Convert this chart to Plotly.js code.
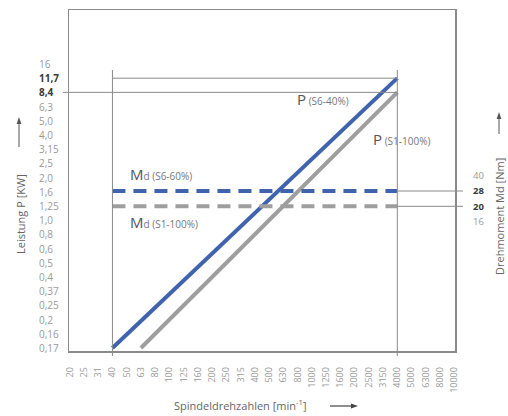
<!DOCTYPE html>
<html>
<head>
<meta charset="utf-8">
<script src="https://cdn.plot.ly/plotly-3.0.1.min.js"></script>
<style>
  html, body { margin: 0; padding: 0; background: #fff; }
  #chart { width: 508px; height: 416px; }
</style>
</head>
<body>
<div id="chart"></div>
<script>
// Speed steps on the horizontal axis (min^-1), equally spaced
const speeds = ['20', '25', '31', '40', '50', '63', '80', '100', '125', '160', '200', '250', '315',
  '400', '500', '630', '800', '1000', '1250', '1600', '2000', '2500', '3150', '4000', '5000',
  '6300', '8000', '10000'];
// Power steps on the left axis (kW), bottom to top
const powerSteps = ['0,17', '0,16', '0,2', '0,25', '0,37', '0,4', '0,5', '0,6', '0,8', '1,0', '1,25',
  '1,6', '2,0', '2,5', '3,15', '4,0', '5,0', '6,3', '8,4', '11,7', '16'];
// Torque steps on the right axis (Nm), bottom to top
const torqueSteps = ['16', '20', '28', '40'];

// Power curves (speed / power pairs)
const pS6Speed = ['40', '4000'];
const pS6Power = ['0,17', '11,7'];
const pS1Speed = ['63', '4000'];
const pS1Power = ['0,17', '8,4'];

// Constant torque lines
const mdSpeed = ['40', '4000'];
const mdS6Torque = ['28', '28'];
const mdS1Torque = ['20', '20'];

// Values printed in bold on the axes
const boldPower = ['11,7', '8,4'];
const boldTorque = ['28', '20'];

const FONT = "'Open Sans', 'Noto Sans', 'DejaVu Sans', sans-serif";
const BLUE = '#4063ad';
const GREY = '#9e9e9e';
const THIN = '#8a8a8a';

const W = 508, H = 416;
const M = { l: 69, r: 53, t: 10, b: 65 };
const PW = W - M.l - M.r, PH = H - M.t - M.b;

const xr = [-0.05, 27.05];
const yr = [-0.211, 23.8];
const y2r = [-8.458, 13.83];

const xi = s => speeds.indexOf(s);
const pi = s => powerSteps.indexOf(s);
const ti = s => torqueSteps.indexOf(s);
const xPaper = idx => (idx - xr[0]) / (xr[1] - xr[0]);
// page pixel -> paper fraction, for decorations outside the plot area
const px = x => (x - M.l) / PW;
const py = y => (H - M.b - y) / PH;

const traces = [
  {
    x: mdSpeed.map(xi), y: mdS1Torque.map(ti), yaxis: 'y2', mode: 'lines',
    line: { color: GREY, width: 4, dash: '13px,8px' }, hoverinfo: 'skip'
  },
  {
    x: mdSpeed.map(xi), y: mdS6Torque.map(ti), yaxis: 'y2', mode: 'lines',
    line: { color: BLUE, width: 4, dash: '13px,8px' }, hoverinfo: 'skip'
  },
  {
    x: pS1Speed.map(xi), y: pS1Power.map(pi), mode: 'lines',
    line: { color: GREY, width: 4 }, hoverinfo: 'skip'
  },
  {
    x: pS6Speed.map(xi), y: pS6Power.map(pi), mode: 'lines',
    line: { color: BLUE, width: 4 }, hoverinfo: 'skip'
  }
];

// left-aligned power labels
const annotations = powerSteps.map((p, i) => {
  const bold = boldPower.includes(p);
  return {
    xref: 'paper', yref: 'y', x: px(37), y: i, xanchor: 'left', yanchor: 'middle',
    text: bold ? '<b>' + p + '</b>' : p, showarrow: false,
    font: { family: FONT, size: 10, color: bold ? '#3a3a3a' : '#9a9a9a' }
  };
});

// axis titles
annotations.push(
  {
    xref: 'paper', yref: 'paper', x: px(20), y: py(214), xanchor: 'center', yanchor: 'middle',
    textangle: -90, showarrow: false,
    text: 'Leistung P [KW]', font: { family: FONT, size: 11, color: '#666' }
  },
  {
    xref: 'paper', yref: 'paper', x: px(499), y: py(217), xanchor: 'center', yanchor: 'middle',
    textangle: -90, showarrow: false,
    text: 'Drehmoment Md [Nm]', font: { family: FONT, size: 11, color: '#666' }
  },
  {
    xref: 'paper', yref: 'paper', x: px(240), y: py(405), xanchor: 'center', yanchor: 'middle',
    showarrow: false,
    text: 'Spindeldrehzahlen [min<sup>-1</sup>]', font: { family: FONT, size: 11, color: '#666' }
  }
);

// curve labels
const curveLabel = (main, rest, x, y) => ({
  xref: 'x', yref: 'y', x: x, y: y, xanchor: 'left', yanchor: 'middle', showarrow: false,
  text: main + "<span style='font-size:10px;color:#777'>" + rest + '</span>',
  font: { family: FONT, size: 15, color: '#555' }
});
annotations.push(
  curveLabel('P', ' (S6-40%)', 15.8, 17.5),
  curveLabel('P', ' (S1-100%)', 21.15, 14.72),
  curveLabel('M', 'd (S6-60%)', 4.1, 12.25),
  curveLabel('M', 'd (S1-100%)', 4.1, 8.87)
);

const thin = { color: THIN, width: 1 };
const arrowLine = { color: '#555', width: 1 };
const tri = pts => 'M' + pts.map(p => px(p[0]) + ',' + py(p[1])).join(' L') + ' Z';

const shapes = [
  // vertical guides at 40 and 4000 min^-1
  { type: 'line', xref: 'x', yref: 'paper', x0: xi('40'), x1: xi('40'), y0: py(356), y1: py(70), line: thin },
  { type: 'line', xref: 'x', yref: 'paper', x0: xi('4000'), x1: xi('4000'), y0: py(356), y1: py(70), line: thin },
  // power level guides
  { type: 'line', xref: 'paper', yref: 'y', x0: px(63), x1: xPaper(xi('4000')), y0: pi('8,4'), y1: pi('8,4'), line: thin },
  { type: 'line', xref: 'x', yref: 'y', x0: xi('40'), x1: xi('4000'), y0: pi('11,7'), y1: pi('11,7'), line: thin },
  // torque leaders to the right scale
  { type: 'line', xref: 'paper', yref: 'y2', x0: xPaper(xi('4000')), x1: px(463), y0: ti('28'), y1: ti('28'), line: thin },
  { type: 'line', xref: 'paper', yref: 'y2', x0: xPaper(xi('4000')), x1: px(463), y0: ti('20'), y1: ti('20'), line: thin },
  // axis direction arrows
  { type: 'line', xref: 'paper', yref: 'paper', x0: px(19), x1: px(19), y0: py(147), y1: py(123), line: arrowLine },
  { type: 'path', xref: 'paper', yref: 'paper', path: tri([[19, 117], [16.6, 124], [21.4, 124]]), fillcolor: '#555', line: { width: 0 } },
  { type: 'line', xref: 'paper', yref: 'paper', x0: px(499), x1: px(499), y0: py(134), y1: py(118), line: arrowLine },
  { type: 'path', xref: 'paper', yref: 'paper', path: tri([[499, 112], [496.6, 119], [501.4, 119]]), fillcolor: '#555', line: { width: 0 } },
  { type: 'line', xref: 'paper', yref: 'paper', x0: px(330), x1: px(352), y0: py(406), y1: py(406), line: { color: '#444', width: 1.2 } },
  { type: 'path', xref: 'paper', yref: 'paper', path: tri([[358, 406], [351, 403.6], [351, 408.4]]), fillcolor: '#444', line: { width: 0 } }
];

const layout = {
  width: W, height: H,
  margin: M,
  paper_bgcolor: '#fff', plot_bgcolor: '#fff',
  showlegend: false,
  font: { family: FONT },
  xaxis: {
    range: xr, tickmode: 'array', tickvals: speeds.map(xi), ticktext: speeds,
    tickangle: -90, ticks: '', ticklabelstandoff: 11,
    tickfont: { family: FONT, size: 9, color: '#9a9a9a' },
    showline: true, mirror: true, linecolor: THIN, linewidth: 1.5,
    showgrid: false, zeroline: false
  },
  yaxis: {
    range: yr, showticklabels: false, ticks: '',
    showline: true, mirror: true, linecolor: THIN, linewidth: 1.5,
    showgrid: false, zeroline: false
  },
  yaxis2: {
    overlaying: 'y', side: 'right', range: y2r,
    tickmode: 'array', tickvals: torqueSteps.map(ti),
    ticktext: torqueSteps.map(t => boldTorque.includes(t)
      ? "<b><span style='color:#3a3a3a'>" + t + '</span></b>' : t),
    ticks: '', ticklabelstandoff: 17,
    tickfont: { family: FONT, size: 9.5, color: '#9a9a9a' },
    showline: false, showgrid: false, zeroline: false
  },
  annotations: annotations,
  shapes: shapes
};

Plotly.newPlot('chart', traces, layout, { staticPlot: true, displayModeBar: false });
</script>
</body>
</html>
